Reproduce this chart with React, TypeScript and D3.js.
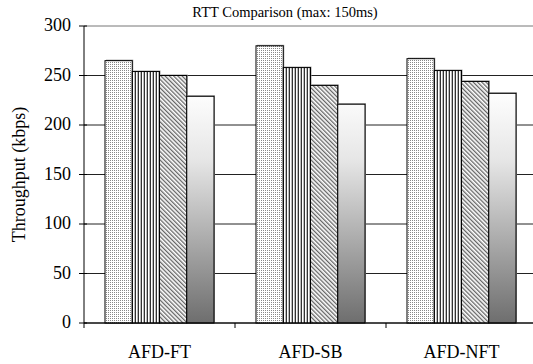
import React from "react";
import * as d3 from "d3";

const categories = ["AFD-FT", "AFD-SB", "AFD-NFT"];
const seriesNames = ["s1", "s2", "s3", "s4"];
const values: number[][] = [
  [265, 254, 250, 229],
  [280, 258, 240, 221],
  [267, 255, 244, 232],
];
const yTicks = [0, 50, 100, 150, 200, 250, 300];
const fills = ["url(#dots)", "url(#vlines)", "url(#diag)", "url(#grad)"];

const W = 533;
const H = 364;
const margin = { top: 26, right: -4, bottom: 41, left: 84 };

export default function App() {
  const x0 = d3
    .scaleBand()
    .domain(categories)
    .range([margin.left, W - margin.right])
    .padding(0);
  const x1 = d3
    .scaleBand()
    .domain(seriesNames)
    .range([21, x0.bandwidth() - 21])
    .padding(0);
  const y = d3
    .scaleLinear()
    .domain([0, 300])
    .range([H - margin.bottom, margin.top]);

  const font = "'Liberation Serif', 'Times New Roman', serif";

  return (
    <svg
      width={W}
      height={H}
      style={{ position: "absolute", left: 0, top: 0, background: "#fff", fontFamily: font }}
    >
      <defs>
        <pattern id="dots" width="2" height="2" patternUnits="userSpaceOnUse">
          <rect width="2" height="2" fill="#fff" />
          <rect width="1" height="1" fill="#888" />
        </pattern>
        <pattern id="vlines" width="3" height="3" patternUnits="userSpaceOnUse">
          <rect width="3" height="3" fill="#fff" />
          <rect width="1" height="3" fill="#333" />
          <rect x="2" width="1" height="3" fill="#bbb" />
        </pattern>
        <pattern
          id="diag"
          width="3"
          height="3"
          patternUnits="userSpaceOnUse"
          patternTransform="rotate(-45)"
        >
          <rect width="3" height="3" fill="#fff" />
          <rect width="1.3" height="3" fill="#666" />
        </pattern>
        <linearGradient
          id="grad"
          gradientUnits="userSpaceOnUse"
          x1="0"
          y1={y(235)}
          x2="0"
          y2={y(0)}
        >
          <stop offset="0" stopColor="#ffffff" />
          <stop offset="0.3" stopColor="#e6e6e6" />
          <stop offset="1" stopColor="#6e6e6e" />
        </linearGradient>
      </defs>

      {/* title */}
      <text x={285} y={12} dy="0.35em" fontSize={14.5} textAnchor="middle" fill="#000">
        RTT Comparison (max: 150ms)
      </text>

      {/* grid lines */}
      {yTicks.map((t) => (
        <line
          key={t}
          x1={margin.left}
          x2={W}
          y1={y(t)}
          y2={y(t)}
          stroke={t === 300 ? "#777" : "#222"}
          strokeWidth={1}
        />
      ))}

      {/* bars */}
      {categories.map((c, i) => (
        <g key={c} transform={`translate(${x0(c)},0)`}>
          {seriesNames.map((s, j) => {
            const bx = x1(s) as number;
            const by = y(values[i][j]);
            const bh = y(0) - by;
            return (
              <g key={s}>
                <rect
                  x={bx + 1}
                  y={by - 1}
                  width={x1.bandwidth()}
                  height={bh}
                  fill="#999"
                />
                <rect
                  x={bx}
                  y={by}
                  width={x1.bandwidth()}
                  height={bh}
                  fill={fills[j]}
                  stroke="#000"
                  strokeWidth={1}
                />
              </g>
            );
          })}
        </g>
      ))}

      {/* y axis */}
      <line
        x1={margin.left}
        x2={margin.left}
        y1={y(300)}
        y2={y(0)}
        stroke="#000"
      />
      {yTicks.map((t) => (
        <g key={t}>
          <line
            x1={margin.left - 5}
            x2={margin.left + 3}
            y1={y(t)}
            y2={y(t)}
            stroke="#000"
          />
          <text
            x={margin.left - 13}
            y={y(t) - 1}
            dy="0.35em"
            fontSize={18}
            textAnchor="end"
            fill="#000"
          >
            {t}
          </text>
        </g>
      ))}
      <text
        transform={`translate(19,${(y(0) + y(300)) / 2}) rotate(-90)`}
        fontSize={18}
        textAnchor="middle"
        dy="0.35em"
        fill="#000"
      >
        Throughput (kbps)
      </text>

      {/* x axis */}
      <line
        x1={margin.left}
        x2={W}
        y1={y(0)}
        y2={y(0)}
        stroke="#000"
      />
      {categories.map((c) => (
        <g key={c}>
          <line
            x1={x0(c) as number}
            x2={x0(c) as number}
            y1={y(0)}
            y2={y(0) + 5}
            stroke="#000"
          />
          <text
            x={(x0(c) as number) + x0.bandwidth() / 2}
            y={352}
            dy="0.35em"
            fontSize={18}
            textAnchor="middle"
            fill="#000"
          >
            {c}
          </text>
        </g>
      ))}
    </svg>
  );
}
